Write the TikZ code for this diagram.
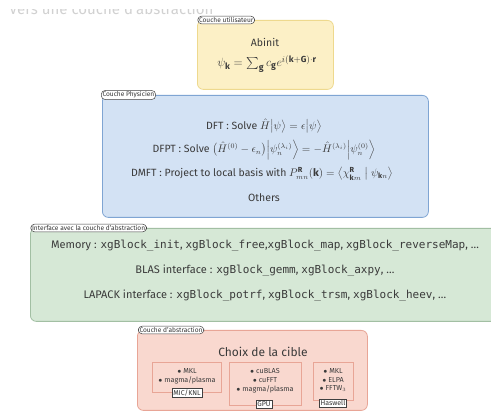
\documentclass[tikz,border=0pt]{standalone}
\usepackage{amsmath}
\usepackage{fontspec}
\setmainfont{Fira Sans}
\setsansfont{Fira Sans}
\setmonofont{DejaVu Sans Mono}
\definecolor{yfill}{HTML}{FCF0C6}
\definecolor{ydraw}{HTML}{EED98E}
\definecolor{bfill}{HTML}{D3E2F4}
\definecolor{bdraw}{HTML}{7FA5D3}
\definecolor{gfill}{HTML}{D6E8D6}
\definecolor{gdraw}{HTML}{A2BFA3}
\definecolor{rfill}{HTML}{F9D8CF}
\definecolor{rdraw}{HTML}{E8A596}
\definecolor{txt}{HTML}{3A3A3A}
\tikzset{
  layer/.style={anchor=north west, rounded corners=6pt, line width=0.8pt, inner sep=0pt},
  tag/.style={draw=black!75, fill=white, rounded corners=4pt, line width=0.5pt,
    font=\fontsize{6.6}{7}\selectfont, text=black!80, inner sep=1.3pt, anchor=west},
  line/.style={text=txt, font=\fontsize{10.5}{12}\selectfont, inner sep=0.3pt},
  codeline/.style={text=txt, font=\fontsize{11}{12}\selectfont, inner sep=0.3pt},
  item/.style={text=txt, font=\fontsize{7.2}{8}\selectfont, inner sep=0.2pt},
  target/.style={draw=rdraw, line width=0.6pt, anchor=north west, inner sep=0pt},
  tlabel/.style={draw=black!75, fill=white, line width=0.5pt, text=black!80,
    font=\fontsize{7}{8}\selectfont, inner sep=1.4pt}
}
\begin{document}
\begin{tikzpicture}[x=1pt,y=-1pt]
\useasboundingbox (0,0) rectangle (491,419);
\fill[white] (0,0) rectangle (491,419);
% cut-off title
\begin{scope}
\clip (0,10) rectangle (215,20);
\node[anchor=base west, text=black!18, font=\fontsize{15}{16}\selectfont, inner sep=0pt] (title) at (9,15) {Vers une couche d'abstraction};
\end{scope}
% user layer
\node[layer, fill=yfill, draw=ydraw, minimum width=136pt, minimum height=69pt] (user) at (197,20) {};
\node[tag] (usertag) at (197.5,20) {Couche utilisateur};
\node[line] (abinit) at (265,42) {Abinit};
\node[line, font=\fontsize{12.5}{14}\selectfont] (psi) at (267,64) {$\psi_{\mathbf{k}} = \sum_{\mathbf{g}} c_{\mathbf{g}} e^{i(\mathbf{k}+\mathbf{G})\cdot\mathbf{r}}$};
% physicist layer
\node[layer, fill=bfill, draw=bdraw, minimum width=326pt, minimum height=122pt] (phys) at (102,95) {};
\node[tag] (phystag) at (101,95) {Couche Physicien};
\node[line] (dft) at (264,126) {DFT : Solve $\hat{H}\bigl|\psi\bigr\rangle = \epsilon\bigl|\psi\bigr\rangle$};
\node[line] (dfpt) at (264,150) {DFPT : Solve $\bigl(\hat{H}^{(0)}-\epsilon_n\bigr)\Bigl|\psi_n^{(\lambda_i)}\Bigr\rangle = -\hat{H}^{(\lambda_i)}\Bigl|\psi_n^{(0)}\Bigr\rangle$};
\node[line] (dmft) at (262,174) {DMFT : Project to local basis with $P^{\mathbf{R}}_{mn}(\mathbf{k}) = \bigl\langle \chi^{\mathbf{R}}_{\mathbf{k}m}\bigm| \psi_{\mathbf{k}n}\bigr\rangle$};
\node[line] (others) at (264,198) {Others};
% interface layer
\node[layer, fill=gfill, draw=gdraw, minimum width=480pt, minimum height=93pt] (iface) at (30,228) {};
\node[tag] (ifacetag) at (30.5,228) {Interface avec la couche d'abstraction};
\node[codeline] (mem) at (265,246) {Memory : \texttt{xgBlock\_init}, \texttt{xgBlock\_free},\texttt{xgBlock\_map}, \texttt{xgBlock\_reverseMap}, \dots};
\node[codeline] (blas) at (265,271) {BLAS interface : \texttt{xgBlock\_gemm}, \texttt{xgBlock\_axpy}, \dots};
\node[codeline] (lapack) at (265,296) {LAPACK interface : \texttt{xgBlock\_potrf}, \texttt{xgBlock\_trsm}, \texttt{xgBlock\_heev}, \dots};
% abstraction layer
\node[layer, fill=rfill, draw=rdraw, minimum width=230pt, minimum height=80pt] (abs) at (137,330) {};
\node[tag] (abstag) at (138,330) {Couche d'abstraction};
\node[text=txt, font=\fontsize{12}{14}\selectfont] (choix) at (263,352) {Choix de la cible};
\node[target, minimum width=69pt, minimum height=30pt] (mic) at (152,362) {};
\node[target, minimum width=72pt, minimum height=43pt] (gpu) at (229,362) {};
\node[target, minimum width=40pt, minimum height=38pt] (has) at (313,362) {};
\node[item] (micA) at (187,371) {$\bullet$ MKL};
\node[item] (micB) at (187,380) {$\bullet$ magma/plasma};
\node[tlabel] (micL) at (187,393) {MIC/KNL};
\node[item] (gpuA) at (265,371) {$\bullet$ cuBLAS};
\node[item] (gpuB) at (265,380) {$\bullet$ cuFFT};
\node[item] (gpuC) at (265,389) {$\bullet$ magma/plasma};
\node[tlabel] (gpuL) at (264,404) {GPU};
\node[item] (hasA) at (333,371) {$\bullet$ MKL};
\node[item] (hasB) at (333,380) {$\bullet$ ELPA};
\node[item] (hasC) at (333,389) {$\bullet$ FFTW$_3$};
\node[tlabel] (hasL) at (333,403) {Haswell};
\end{tikzpicture}
\end{document}
